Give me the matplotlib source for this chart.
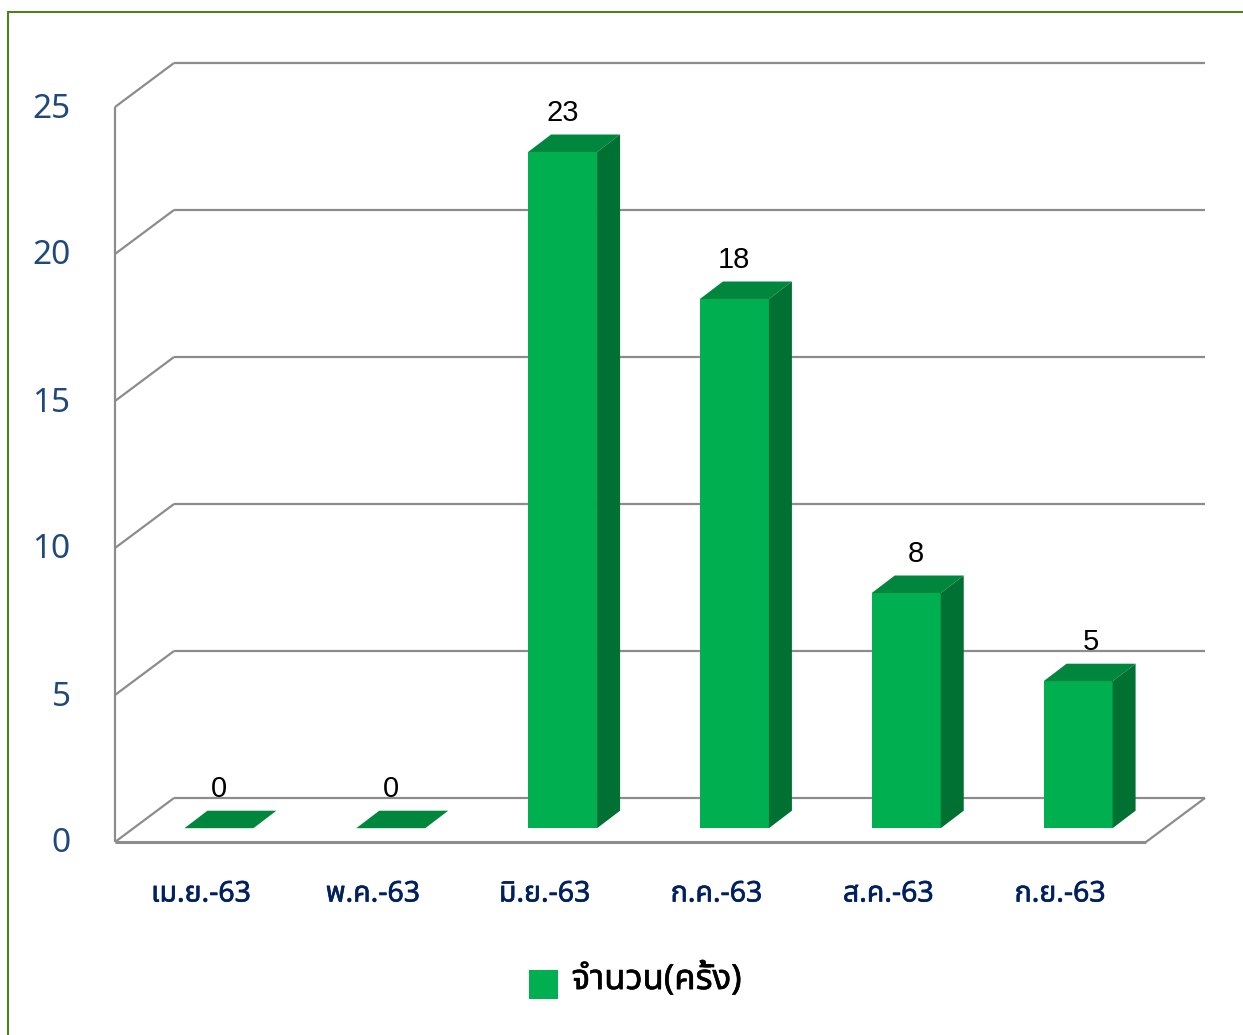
import matplotlib
matplotlib.use('Agg')
import matplotlib.patheffects as pe
import matplotlib.pyplot as plt
from matplotlib.legend_handler import HandlerPatch
from matplotlib.patches import Patch, Polygon, Rectangle
from matplotlib.transforms import offset_copy

months = ['เม.ย.-63', 'พ.ค.-63', 'มิ.ย.-63', 'ก.ค.-63', 'ส.ค.-63', 'ก.ย.-63']
counts = [0, 0, 23, 18, 8, 5]
y_ticks = [0, 5, 10, 15, 20, 25]
series_name = 'จำนวน(ครั้ง)'

W, H = 1243, 1035
THAI = ['Noto Sans', 'Noto Sans Thai', 'Sarabun', 'DejaVu Sans']
GREY = '#8c8c8c'

fig = plt.figure(figsize=(W / 100, H / 100), dpi=100)

# green outline of the chart area, runs off the right and bottom of the image
fig.add_artist(Rectangle((8 / W, -0.02), 1.1, 1.02 - 12 / H, transform=fig.transFigure,
                         fill=False, edgecolor='#4f7f1f', linewidth=1.5))

# axes = front plane of the fake 3d box
ax = fig.add_axes([115 / W, 1 - 842 / H, 1031 / W, 735 / H])
ax.set_xlim(0, len(months))
ax.set_ylim(0, 25)
ax.patch.set_alpha(0)
for s in ax.spines.values():
    s.set_visible(False)

# depth of the box, of the bar slot and of the bar, in data units
px_x = len(months) / 1031
px_y = 25 / 735
box_dx, box_dy = 59 * px_x, 44 * px_y
gap_dx, gap_dy = 18 * px_x, 13.8 * px_y
bar_dx, bar_dy = 23 * px_x, 17.5 * px_y
bar_w = 69 * px_x
n = len(months)

line = dict(color=GREY, linewidth=1.6, clip_on=False, zorder=1, solid_capstyle='butt')
for v in y_ticks:
    ax.plot([0, box_dx], [v, v + box_dy], **line)
    ax.plot([box_dx, n + box_dx], [v + box_dy, v + box_dy], **line)
ax.plot([0, 0], [0, 25], **line)
ax.plot([0, n], [0, 0], **dict(line, linewidth=2.2))
ax.plot([n, n + box_dx], [0, box_dy], **line)

# data labels 8 and 5 sit a little right of their bars in the original
label_shift = [0, 0, 0, 0, 10, 13]

for i, v in enumerate(counts):
    x0 = i + 0.5 + gap_dx - bar_w / 2
    x1 = x0 + bar_w
    y0 = gap_dy
    ax.bar(x0, v, bar_w, bottom=y0, align='edge', color='#00b050', zorder=3, clip_on=False)
    top = [(x0, y0 + v), (x1, y0 + v), (x1 + bar_dx, y0 + v + bar_dy), (x0 + bar_dx, y0 + v + bar_dy)]
    side = [(x1, y0), (x1 + bar_dx, y0 + bar_dy), (x1 + bar_dx, y0 + v + bar_dy), (x1, y0 + v)]
    ax.add_patch(Polygon(top, facecolor='#00863d', edgecolor='none', zorder=3, clip_on=False))
    ax.add_patch(Polygon(side, facecolor='#007033', edgecolor='none', zorder=3, clip_on=False))
    ax.annotate(str(v), xy=((x0 + x1) / 2, y0 + v), xytext=(label_shift[i] * 0.72, 39 * 0.72),
                textcoords='offset points', ha='center', va='center', fontsize=21,
                family='Liberation Sans', color='black', zorder=2)

ax.set_xticks([i + 0.5 for i in range(n)])
ax.set_xticklabels(months, fontsize=20.5, family=THAI, color='#002060')
ax.set_yticks(y_ticks)
ax.set_yticklabels([str(v) for v in y_ticks], fontsize=24, family=THAI, color='#1f497d')
ax.tick_params(axis='x', length=0, pad=27)
ax.tick_params(axis='y', length=0, pad=32)
for lab in ax.get_yticklabels():
    lab.set_transform(offset_copy(lab.get_transform(), fig=fig, y=2, units='dots'))
# no semibold face with Thai glyphs here, thicken with a thin stroke
for lab in ax.get_xticklabels():
    lab.set_path_effects([pe.withStroke(linewidth=0.45, foreground='#002060')])


def low_swatch(legend, orig_handle, xdescent, ydescent, width, height, fontsize):
    # the swatch hangs below the text line in the original
    return Rectangle((-xdescent, -ydescent - 5), width, height)


leg = fig.legend(handles=[Patch(facecolor='#00b050', label=series_name)],
                 loc='center', bbox_to_anchor=(635 / W, 1 - 979 / H), frameon=False,
                 prop={'family': THAI, 'size': 25},
                 handlelength=0.835, handleheight=0.909, handletextpad=0.4,
                 labelcolor='black', handler_map={Patch: HandlerPatch(patch_func=low_swatch)})
for t in leg.get_texts():
    t.set_path_effects([pe.withStroke(linewidth=0.45, foreground='black')])

fig.savefig('out.png', dpi=100)
